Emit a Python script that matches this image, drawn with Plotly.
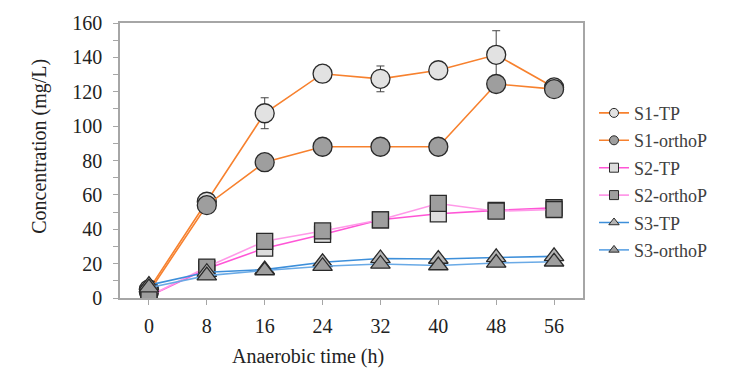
import plotly.graph_objects as go

time_h = [0, 8, 16, 24, 32, 40, 48, 56]
x_ticks = [0, 8, 16, 24, 32, 40, 48, 56]
y_ticks = [0, 20, 40, 60, 80, 100, 120, 140, 160]

s1_tp = [5, 56, 107.5, 130.5, 127.5, 132.5, 141.5, 122.5]
s1_tp_err = [1, 2, 9, 2, 7.5, 2, 14, 2]
s1_ortho = [3.5, 54, 79, 88, 88, 88, 124.5, 121.5]
s2_tp = [1, 17, 29, 37, 45.5, 49, 51, 52.5]
s2_ortho = [1, 18, 33, 39, 45.5, 55, 50.5, 51.5]
s3_tp = [7.5, 15, 16.5, 20.8, 23, 22.7, 23.6, 24.2]
s3_ortho = [6, 13, 16, 18.5, 19.8, 18.9, 20.4, 21.1]

names = ["S1-TP", "S1-orthoP", "S2-TP", "S2-orthoP", "S3-TP", "S3-orthoP"]
series = [s1_tp, s1_ortho, s2_tp, s2_ortho, s3_tp, s3_ortho]
errors = [s1_tp_err, None, None, None, None, None]
line_colors = ["#F7812E", "#F7812E", "#FF55D6", "#FF99E8", "#3D8FDA", "#6AAAE6"]
symbols = ["circle", "circle", "square", "square", "triangle-up", "triangle-up"]
fills = ["#E2E2E2", "#9E9E9E", "#DDDDDD", "#9E9E9E", "#B5B5B5", "#9E9E9E"]
sizes = [19, 19, 16, 16, 17, 17]
leg_sizes = [9, 9, 9, 9, 9, 9]

SERIF = '"Liberation Serif", "Times New Roman", "DejaVu Serif", serif'

fig = go.Figure()
for i, (nm, ys) in enumerate(zip(names, series)):
    err = errors[i]
    fig.add_trace(go.Scatter(
        x=time_h, y=ys, mode="lines+markers", showlegend=False,
        line=dict(color=line_colors[i], width=1.6),
        marker=dict(symbol=symbols[i], size=sizes[i], color=fills[i],
                    line=dict(color="#2a2a2a", width=1.3)),
        error_y=(dict(type="data", array=err, color="#444444", thickness=1, width=4)
                 if err is not None else None),
    ))
for i, nm in enumerate(names):
    fig.add_trace(go.Scatter(
        x=[None], y=[None], mode="lines+markers", name=nm, legendgroup=nm,
        line=dict(color=line_colors[i], width=1.6),
        marker=dict(symbol=symbols[i], size=leg_sizes[i], color=fills[i],
                    line=dict(color="#2a2a2a", width=1)),
    ))

axis_font = dict(family=SERIF, size=20, color="#222222")
L, R, T, B = 120, 147, 18, 74
W, H = 730, 372
pw, ph = W - L - R, H - T - B

def px_to_paper(px, py):
    return (px - L) / pw, (H - B - py) / ph

ax_x, ax_y = px_to_paper(308, 358)
ay_x, ay_y = px_to_paper(40, 144)
lg_x, lg_y = px_to_paper(594, 91)

fig.update_layout(
    width=W, height=H,
    margin=dict(l=L, r=R, t=T, b=B),
    paper_bgcolor="white", plot_bgcolor="white",
    font=dict(family=SERIF, color="#222222"),
    showlegend=True,
    legend=dict(x=lg_x, y=lg_y, xanchor="left", yanchor="top",
                font=dict(family=SERIF, size=18, color="#404040"),
                tracegroupgap=1, itemwidth=30, bgcolor="rgba(0,0,0,0)"),
    xaxis=dict(range=[-4, 60], tickvals=x_ticks, ticktext=[str(t) for t in x_ticks],
               showgrid=False, zeroline=False, showline=True, linecolor="#A6A6A6",
               linewidth=1.5, mirror=True, ticks="outside", ticklen=5,
               tickcolor="#A6A6A6", tickfont=axis_font, ticklabelstandoff=4),
    yaxis=dict(range=[0, 160], tickvals=y_ticks, showgrid=False, zeroline=False,
               showline=True, linecolor="#A6A6A6", linewidth=1.5, mirror=True,
               ticks="outside", ticklen=5, tickcolor="#A6A6A6", tickfont=axis_font,
               ticklabelstandoff=7,
               minor=dict(dtick=10, ticks="outside", ticklen=5, tickcolor="#A6A6A6")),
    annotations=[
        dict(text="Anaerobic time (h)", x=ax_x, y=ax_y, xref="paper", yref="paper",
             xanchor="center", yanchor="middle", showarrow=False,
             font=dict(family=SERIF, size=20, color="#222222")),
        dict(text="Concentration (mg/L)", x=ay_x, y=ay_y, xref="paper", yref="paper",
             xanchor="center", yanchor="middle", textangle=-90, showarrow=False,
             font=dict(family=SERIF, size=20, color="#222222")),
    ],
)
fig.write_html("out.html", config={"displayModeBar": False})
with open("out.html", "r", encoding="utf-8") as f:
    html = f.read()
html = html.replace("<body>", '<body style="margin:0">', 1)
with open("out.html", "w", encoding="utf-8") as f:
    f.write(html)
